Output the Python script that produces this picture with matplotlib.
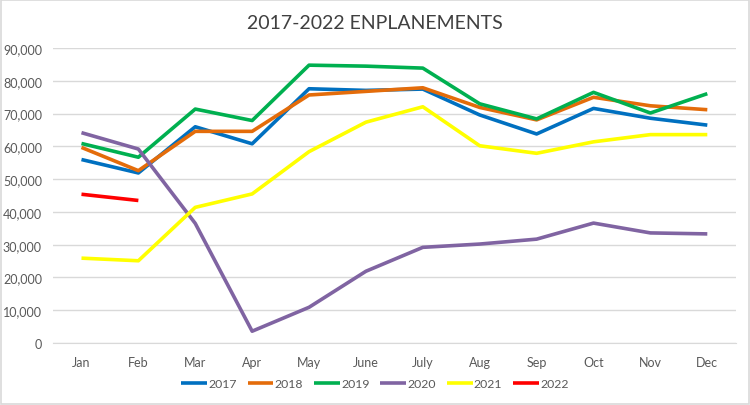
import matplotlib
matplotlib.use("Agg")
import matplotlib.pyplot as plt
from matplotlib.patches import Rectangle
from matplotlib.ticker import FuncFormatter

months = ["Jan", "Feb", "Mar", "Apr", "May", "June", "July", "Aug", "Sep", "Oct", "Nov", "Dec"]
y2017 = [56000, 51900, 66000, 60800, 77600, 77100, 77500, 69600, 63800, 71600, 68600, 66500]
y2018 = [59700, 52600, 64600, 64600, 75700, 76800, 77900, 71900, 68100, 75000, 72400, 71200]
y2019 = [60900, 56700, 71400, 67900, 84800, 84500, 83900, 73000, 68400, 76500, 70200, 76100]
y2020 = [64200, 59200, 36500, 3600, 10900, 21900, 29200, 30200, 31700, 36600, 33600, 33300]
y2021 = [25900, 25100, 41400, 45500, 58400, 67400, 72100, 60200, 57900, 61400, 63600, 63600]
y2022 = [45400, 43500]
series_labels = ["2017", "2018", "2019", "2020", "2021", "2022"]
colors = ["#0070C0", "#E46C0A", "#00B050", "#8064A2", "#FFFF00", "#FF0000"]
yticks = [0, 10000, 20000, 30000, 40000, 50000, 60000, 70000, 80000, 90000]

plt.rcParams['font.family'] = ['Lato', 'DejaVu Sans']

fig = plt.figure(figsize=(7.5, 4.06), dpi=100)
ax = fig.add_axes([0.0707, 0.1527, 0.9103, 0.7263])

data = [y2017, y2018, y2019, y2020, y2021, y2022]
x = list(range(len(months)))
for vals, lab, col in zip(data, series_labels, colors):
    ax.plot(x[:len(vals)], vals, color=col, lw=2.6, label=lab, solid_capstyle='butt')

ax.set_xlim(-0.5, 11.5)
ax.set_ylim(0, 90000)
ax.set_yticks(yticks)
ax.yaxis.set_major_formatter(FuncFormatter(lambda v, p: f"{int(v):,}"))
ax.set_xticks(x)
ax.set_xticklabels(months)
ax.grid(axis='y', color='#D9D9D9', lw=1)
ax.set_axisbelow(True)
for s in ['top', 'right', 'left']:
    ax.spines[s].set_visible(False)
ax.spines['bottom'].set_color('#D9D9D9')
ax.tick_params(axis='both', length=0, colors='#595959', labelsize=9)
ax.tick_params(axis='x', pad=9)
ax.tick_params(axis='y', pad=8)

fig.suptitle("2017-2022 ENPLANEMENTS", x=0.5, y=0.962, fontsize=14, color='#404040')

leg = fig.legend(loc='center', bbox_to_anchor=(0.5, 0.052), ncol=6, frameon=False,
                 fontsize=8.8, handlelength=2.1, columnspacing=0.9, handletextpad=0.1)
for t in leg.get_texts():
    t.set_color('#595959')

fig.patches.append(Rectangle((0.001, 0.002), 0.997, 0.996, transform=fig.transFigure,
                             fill=False, edgecolor='#D9D9D9', lw=1.2))

fig.savefig("out.png", dpi=100, facecolor='white')
